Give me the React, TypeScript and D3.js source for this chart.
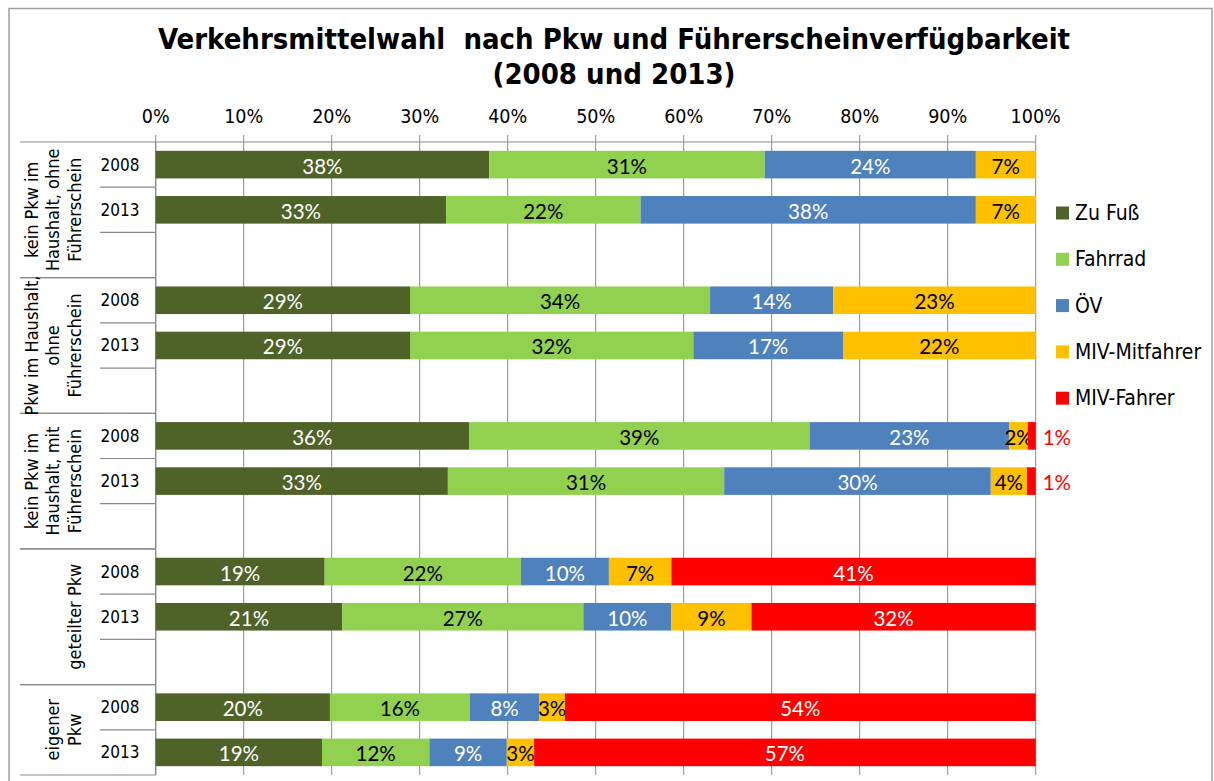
import React from "react";
import * as d3 from "d3";

const titleLines = ["Verkehrsmittelwahl  nach Pkw und Führerscheinverfügbarkeit", "(2008 und 2013)"];
const groups = [
  ["kein Pkw im", "Haushalt, ohne", "Führerschein"],
  ["Pkw im Haushalt,", "ohne", "Führerschein"],
  ["kein Pkw im", "Haushalt, mit", "Führerschein"],
  ["geteilter Pkw"],
  ["eigener", "Pkw"],
];
const years = ["2008", "2013"];
const seriesNames = ["Zu Fuß", "Fahrrad", "ÖV", "MIV-Mitfahrer", "MIV-Fahrer"];
const seriesColors = ["#4F6228", "#92D050", "#4F81BD", "#FFC000", "#FF0000"];
const labelColors = ["#ffffff", "#000000", "#ffffff", "#000000", "#ffffff"];
// rows: group0-2008, group0-2013, group1-2008, ...
const zuFuss = [37.9, 33.0, 28.9, 28.9, 35.6, 33.2, 19.2, 21.2, 19.8, 18.9];
const fahrrad = [31.3, 22.1, 34.1, 32.2, 38.7, 31.4, 22.3, 27.4, 15.9, 12.2];
const oev = [24.0, 38.1, 14.0, 17.0, 22.7, 30.3, 10.0, 10.0, 7.9, 8.8];
const mitfahrer = [6.8, 6.8, 23.0, 21.9, 2.1, 4.1, 7.1, 9.1, 2.9, 3.1];
const fahrer = [0, 0, 0, 0, 0.9, 1.0, 41.4, 32.3, 53.5, 57.0];
const ticks = [0, 10, 20, 30, 40, 50, 60, 70, 80, 90, 100];

const FONT = "'DejaVu Sans Condensed', 'DejaVu Sans', sans-serif";
const LABELFONT = "Lato, 'Open Sans', sans-serif";

export default function App() {
  const series = [zuFuss, fahrrad, oev, mitfahrer, fahrer];
  const rows = groups.flatMap((g, gi) => years.map((yr, yi) => ({ gi, yr, key: `g${gi}-${yr}`, idx: gi * 2 + yi })));
  const slots: string[] = [];
  groups.forEach((g, gi) => {
    years.forEach((yr) => slots.push(`g${gi}-${yr}`));
    if (gi < groups.length - 1) slots.push(`g${gi}-gap`);
  });
  const top = 142, bottom = 775;
  const x = d3.scaleLinear().domain([0, 100]).range([155.7, 1035.7]);
  const y = d3.scaleBand<string>().domain(slots).range([top, bottom]).paddingInner(0.39).paddingOuter(0.195);
  const step = y.step();
  const slotTop = (k: string) => (y(k) as number) - step * 0.195;
  const grey = "#8a8a8a";

  const groupBounds = groups.map((g, gi) => {
    const first = slotTop(`g${gi}-2008`);
    const n = gi < groups.length - 1 ? 3 : 2;
    return [first, first + n * step];
  });

  return (
    <svg width={1214} height={781} style={{ position: "absolute", left: 0, top: 0, background: "#fff" }}>
      <rect x={9} y={8.5} width={1203} height={820} fill="#fff" stroke="#a0a0a0" strokeWidth={1.5} />
      {titleLines.map((t, i) => (
        <text key={i} x={614} y={49 + i * 35} textAnchor="middle" fontFamily={FONT} fontWeight="bold" fontSize={29} fill="#000"
          style={{ whiteSpace: "pre" }}>
          {t}
        </text>
      ))}
      {ticks.map((t) => (
        <g key={t}>
          <line x1={x(t)} x2={x(t)} y1={135} y2={bottom} stroke={grey} strokeWidth={1} />
          <text x={x(t)} y={123} textAnchor="middle" fontFamily={FONT} fontSize={19.5} fill="#000">{`${t}%`}</text>
        </g>
      ))}
      <line x1={x(0)} x2={x(100)} y1={top} y2={top} stroke={grey} strokeWidth={1.2} />
      <line x1={x(0)} x2={x(0)} y1={top} y2={bottom} stroke={grey} strokeWidth={1.2} />
      {slots.map((k, i) => {
        if (i === 0) return null;
        const yy = slotTop(k);
        const isGroup = k.endsWith("2008");
        return isGroup ? null : <line key={k} x1={100} x2={x(0)} y1={yy} y2={yy} stroke={grey} strokeWidth={1.2} />;
      })}
      {groupBounds.map(([a, b], gi) => (
        <g key={gi}>
          <line x1={20} x2={x(0)} y1={a} y2={a} stroke={grey} strokeWidth={1.2} />
          <line x1={20} x2={x(0)} y1={b} y2={b} stroke={grey} strokeWidth={1.2} />
        </g>
      ))}
      {groups.map((lines, gi) => {
        const cy = (groupBounds[gi][0] + groupBounds[gi][1]) / 2;
        return lines.map((ln, li) => {
          const cx = 74 - (lines.length - 1 - li) * 21.5;
          return (
            <text key={`${gi}-${li}`} transform={`translate(${cx},${cy}) rotate(-90)`} textAnchor="middle" dominantBaseline="central"
              fontFamily={FONT} fontSize={18} fill="#000">{ln}</text>
          );
        });
      })}
      {rows.map((r) => (
        <text key={r.key} x={120} y={(y(r.key) as number) + y.bandwidth() / 2} textAnchor="middle" dominantBaseline="central"
          fontFamily={FONT} fontSize={17} fill="#000">{r.yr}</text>
      ))}
      {rows.map((r) => {
        let acc = 0;
        const yy = y(r.key) as number;
        const bh = y.bandwidth();
        return (
          <g key={r.key}>
            {series.map((s, si) => {
              const v = s[r.idx];
              const x0 = acc;
              acc += v;
              if (v <= 0) return null;
              const small = v < 1.5;
              return (
                <g key={si}>
                  <rect x={x(x0)} y={yy} width={x(x0 + v) - x(x0)} height={bh} fill={seriesColors[si]} />
                  <text x={small ? x(100) + 7 : (x(x0) + x(x0 + v)) / 2} y={yy + bh / 2 + 1} textAnchor={small ? "start" : "middle"}
                    dominantBaseline="central" fontFamily={LABELFONT} fontSize={20.5} fill={small ? "#FF0000" : labelColors[si]}>
                    {`${Math.round(v)}%`}
                  </text>
                </g>
              );
            })}
          </g>
        );
      })}
      {seriesNames.map((n, i) => {
        const cy = 213 + i * 46.3;
        return (
          <g key={n}>
            <rect x={1056} y={cy - 6.5} width={13} height={13} fill={seriesColors[i]} />
            <text x={1075} y={cy} dominantBaseline="central" fontFamily={FONT} fontSize={21} fill="#000">{n}</text>
          </g>
        );
      })}
    </svg>
  );
}
